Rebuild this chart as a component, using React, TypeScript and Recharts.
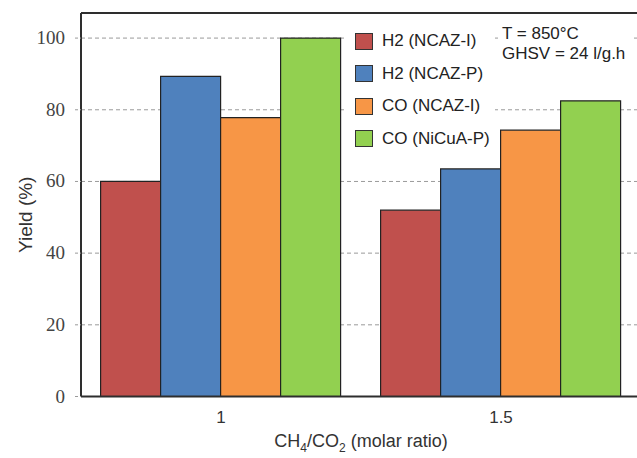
import React from "react";
import { BarChart, Bar, XAxis, YAxis, CartesianGrid, Legend, ReferenceLine, Label } from "recharts";

// CH4/CO2 molar ratio groups
const ratios = ["1", "1.5"];
const h2NcazI = [60, 52];
const h2NcazP = [89.3, 63.5];
const coNcazI = [77.8, 74.3];
const coNicuaP = [100, 82.5];
const yTicks = [0, 20, 40, 60, 80, 100];

const series = [
  { key: "h2i", name: "H2 (NCAZ-I)", color: "#C0504D", values: h2NcazI },
  { key: "h2p", name: "H2 (NCAZ-P)", color: "#4F81BD", values: h2NcazP },
  { key: "coi", name: "CO (NCAZ-I)", color: "#F79646", values: coNcazI },
  { key: "cop", name: "CO (NiCuA-P)", color: "#92D050", values: coNicuaP },
];

const data = ratios.map((r, i) => {
  const row: any = { ratio: r };
  series.forEach((s) => (row[s.key] = s.values[i]));
  return row;
});

const sans = "'Liberation Sans', Arial, sans-serif";
const serif = "'Liberation Serif', 'DejaVu Serif', serif";
const frame = "#2e2e2e";

function LegendBox({ payload }: any) {
  // keep the series order instead of the default alphabetical one
  const items = [...(payload || [])].sort(
    (a: any, b: any) => series.findIndex((s) => s.name === a.value) - series.findIndex((s) => s.name === b.value)
  );
  return (
    <div style={{ background: "#fff", padding: "6px 4px 8px 10px", fontFamily: sans, fontSize: 17, color: "#222" }}>
      {items.map((p: any, i: number) => (
        <div key={i} style={{ display: "flex", alignItems: "center", height: 32.5 }}>
          <span
            style={{
              display: "inline-block",
              width: 18,
              height: 17,
              background: p.color,
              border: "1px solid #333",
              boxSizing: "border-box",
              marginRight: 9,
            }}
          />
          <span>{p.value}</span>
        </div>
      ))}
    </div>
  );
}

const renderYTick = ({ x, y, payload }: any) => (
  <text key={payload.value} x={x} y={y} textAnchor="end" dy={6} fontFamily={serif} fontSize={19} fill="#444">
    {payload.value}
  </text>
);

function XTitle({ viewBox }: any) {
  const cx = viewBox.x + viewBox.width / 2;
  return (
    <text x={cx} y={viewBox.y + 50} textAnchor="middle" fontFamily={sans} fontSize={18} fill="#333">
      <tspan>CH</tspan>
      <tspan fontSize={12} dy={5}>4</tspan>
      <tspan dy={-5}>/CO</tspan>
      <tspan fontSize={12} dy={5}>2</tspan>
      <tspan dy={-5}> (molar ratio)</tspan>
    </text>
  );
}

function YTitle({ viewBox }: any) {
  const x = viewBox.x + 25;
  const y = viewBox.y + viewBox.height / 2 + 10;
  return (
    <text x={x} y={y} transform={`rotate(-90 ${x} ${y})`} textAnchor="middle" dominantBaseline="central" fontFamily={sans} fontSize={19} fill="#333">
      Yield (%)
    </text>
  );
}

export default function App() {
  return (
    <div style={{ position: "absolute", left: 0, top: 0, width: 637, height: 458, overflow: "hidden", background: "#fff" }}>
      <BarChart
        width={650}
        height={458}
        data={data}
        margin={{ top: 13, right: 9, bottom: 0, left: 0 }}
        barCategoryGap="7%"
        barGap={0}
      >
        <CartesianGrid vertical={false} stroke="#9a9a9a" strokeDasharray="4 3" />
        <XAxis
          dataKey="ratio"
          height={61.5}
          axisLine={{ stroke: frame, strokeWidth: 2 }}
          tickLine={false}
          tickSize={0}
          tickMargin={14}
          tick={{ fontFamily: sans, fontSize: 17, fill: "#333" }}
        >
          <Label content={<XTitle />} />
        </XAxis>
        <YAxis
          width={81}
          domain={[0, 107]}
          ticks={yTicks}
          allowDataOverflow
          axisLine={{ stroke: frame, strokeWidth: 2 }}
          tickLine={{ stroke: "#9a9a9a", strokeDasharray: "3 2" }}
          tickSize={6}
          tickMargin={10}
          tick={renderYTick}
        >
          <Label content={<YTitle />} />
        </YAxis>
        <ReferenceLine y={107} stroke={frame} strokeWidth={2} />
        {series.map((s) => (
          <Bar key={s.key} dataKey={s.key} name={s.name} fill={s.color} stroke="#222" strokeWidth={1.2} isAnimationActive={false} />
        ))}
        <Legend
          layout="vertical"
          align="center"
          verticalAlign="middle"
          content={<LegendBox />}
          wrapperStyle={{ left: 345, top: 19, width: 150, height: "auto" }}
        />
      </BarChart>
      <div
        style={{
          position: "absolute",
          left: 500,
          top: 24,
          padding: "0 6px 2px 2px",
          background: "#fff",
          fontFamily: sans,
          fontSize: 17,
          lineHeight: "20px",
          color: "#222",
        }}
      >
        <div>T = 850°C</div>
        <div>GHSV = 24 l/g.h</div>
      </div>
    </div>
  );
}
